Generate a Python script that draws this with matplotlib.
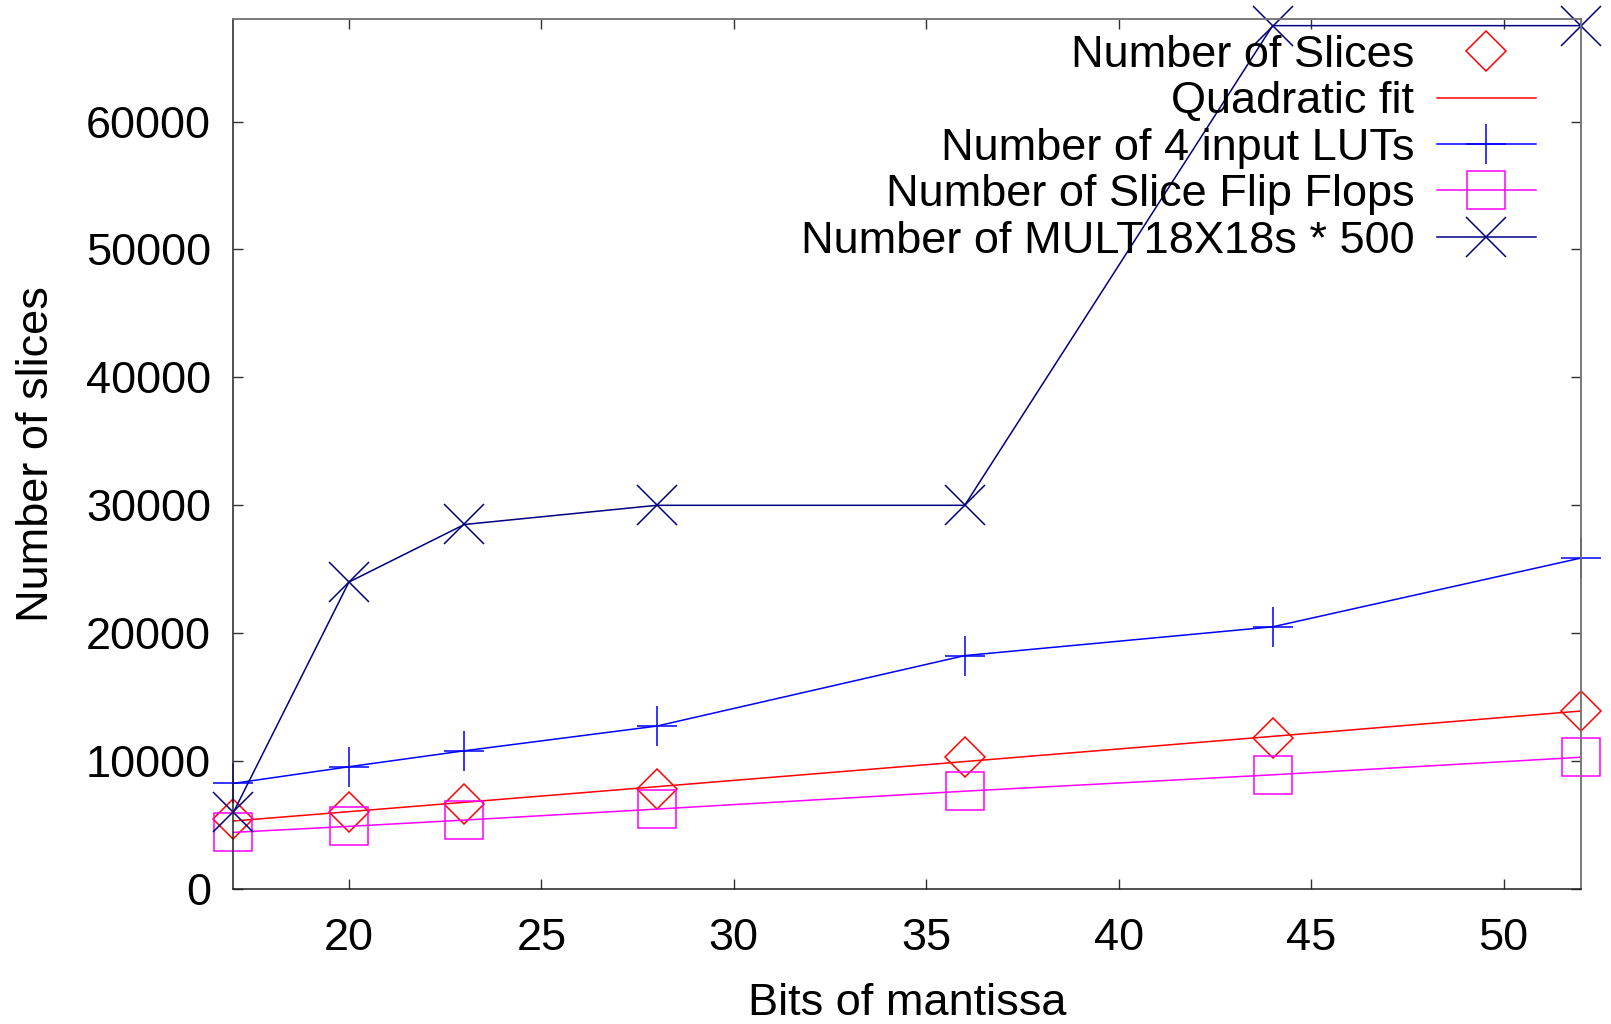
import numpy as np
import matplotlib
matplotlib.use('Agg')
import matplotlib.pyplot as plt

plt.rcParams['font.family'] = ['Liberation Sans', 'DejaVu Sans']

bits = [17, 20, 23, 28, 36, 44, 52]
slices = [5450, 6040, 6640, 7810, 10300, 11820, 13910]
luts = [8260, 9560, 10810, 12740, 18250, 20500, 25870]
flip_flops = [4430, 4900, 5390, 6250, 7650, 8930, 10300]
mults = [12, 48, 57, 60, 60, 135, 135]
mult_scale = 500

# quadratic fit of the slice counts
coef = np.polyfit(bits, slices, 2)
fit_x = np.linspace(bits[0], bits[-1], 100)
fit_y = np.polyval(coef, fit_x)

fs = 32.5

fig = plt.figure(figsize=(16.11, 10.24), dpi=100)
ax = fig.add_axes([0.1449, 0.1318, 0.9811 - 0.1449, 0.9812 - 0.1318])

ax.plot(bits, slices, ls='none', marker='D', ms=20, mfc='none', mec='#ff0000', mew=1.1,
        clip_on=False, label='Number of Slices')
ax.plot(fit_x, fit_y, color='#ff0000', lw=1.1, label='Quadratic fit')
ax.plot(bits, luts, color='#0000ff', lw=1.1, marker='+', ms=29, mew=1.1,
        clip_on=False, label='Number of 4 input LUTs')
ax.plot(bits, flip_flops, color='#ff00ff', lw=1.1, marker='s', ms=27, mfc='none', mew=1.1,
        clip_on=False, label='Number of Slice Flip Flops')
ax.plot(bits, [m * mult_scale for m in mults], color='#000080', lw=1.1, marker='x', ms=29, mew=1.1,
        clip_on=False, label='Number of MULT18X18s * 500')

ax.set_xlim(17, 52)
ax.set_ylim(0, 68000)
ax.set_xticks([20, 25, 30, 35, 40, 45, 50])
ax.set_yticks([0, 10000, 20000, 30000, 40000, 50000, 60000])
ax.tick_params(direction='in', length=7, width=1, labelsize=fs, top=True, right=True,
               color='#303030')
ax.tick_params(axis='x', pad=21)
ax.tick_params(axis='y', pad=16)

for s in ['left', 'bottom']:
    ax.spines[s].set_color('#202020')
    ax.spines[s].set_linewidth(1.1)
for s in ['top', 'right']:
    ax.spines[s].set_color('#707070')
    ax.spines[s].set_linewidth(1.3)

ax.set_xlabel('Bits of mantissa', fontsize=fs)
ax.set_ylabel('Number of slices', fontsize=fs)
ax.xaxis.set_label_coords(0.5, -0.108)
ax.yaxis.set_label_coords(-0.131, 0.5)

leg = ax.legend(loc='upper right', bbox_to_anchor=(0.967, 0.982), frameon=False, fontsize=fs,
                markerfirst=False, borderpad=0, borderaxespad=0, labelspacing=0.12,
                handlelength=2.2, handletextpad=0.5, numpoints=1)

# gnuplot-style key: labels right-aligned against the samples
fig.canvas.draw()
renderer = fig.canvas.get_renderer()
boxes = [t.get_window_extent(renderer) for t in leg.get_texts()]
col_right = min(b.x0 for b in boxes) + max(b.width for b in boxes)
for t, b in zip(leg.get_texts(), boxes):
    t.set_color('none')
    fig.text(col_right / fig.bbox.width, b.y0 / fig.bbox.height, t.get_text(),
             ha='right', va='bottom', fontsize=fs)

fig.savefig('out.png', dpi=100)
